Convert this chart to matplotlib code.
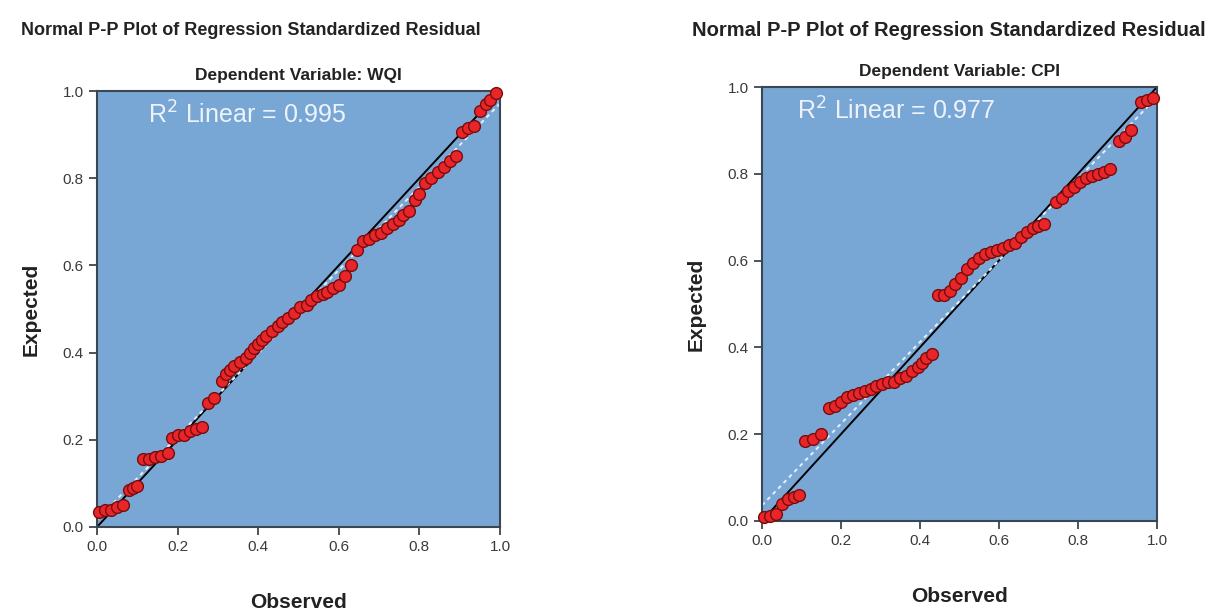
import numpy as np
import matplotlib
matplotlib.use('Agg')
import matplotlib.pyplot as plt

# P-P plot values (observed cum prob, expected cum prob)
wqi_obs = [0.005, 0.02, 0.035, 0.05, 0.065, 0.08, 0.09, 0.10, 0.115, 0.13, 0.145, 0.16,
           0.175, 0.185, 0.20, 0.215, 0.23, 0.245, 0.26, 0.275, 0.29, 0.31, 0.32, 0.33,
           0.34, 0.355, 0.37, 0.38, 0.39, 0.40, 0.41, 0.42, 0.435, 0.45, 0.46, 0.475,
           0.49, 0.505, 0.52, 0.53, 0.545, 0.56, 0.57, 0.585, 0.60, 0.615, 0.63, 0.645,
           0.66, 0.675, 0.69, 0.705, 0.72, 0.735, 0.75, 0.76, 0.775, 0.79, 0.80, 0.815,
           0.83, 0.845, 0.86, 0.875, 0.89, 0.905, 0.92, 0.935, 0.95, 0.965, 0.975, 0.99]
wqi_exp = [0.035, 0.04, 0.04, 0.045, 0.05, 0.085, 0.09, 0.095, 0.155, 0.157, 0.16, 0.162,
           0.17, 0.205, 0.21, 0.21, 0.22, 0.225, 0.23, 0.285, 0.295, 0.335, 0.35, 0.36,
           0.37, 0.378, 0.388, 0.398, 0.41, 0.42, 0.43, 0.437, 0.45, 0.46, 0.47, 0.48,
           0.49, 0.505, 0.51, 0.52, 0.53, 0.535, 0.54, 0.548, 0.556, 0.575, 0.60, 0.635,
           0.655, 0.66, 0.67, 0.675, 0.685, 0.695, 0.705, 0.715, 0.725, 0.75, 0.765, 0.79,
           0.80, 0.815, 0.825, 0.84, 0.85, 0.905, 0.915, 0.92, 0.955, 0.97, 0.98, 0.995]

cpi_obs = [0.005, 0.02, 0.035, 0.05, 0.065, 0.08, 0.095, 0.11, 0.13, 0.15, 0.17, 0.185,
           0.20, 0.215, 0.23, 0.245, 0.26, 0.275, 0.29, 0.305, 0.32, 0.335, 0.35, 0.365,
           0.38, 0.395, 0.405, 0.415, 0.43, 0.445, 0.46, 0.475, 0.49, 0.505, 0.52, 0.535,
           0.55, 0.565, 0.58, 0.595, 0.61, 0.625, 0.64, 0.655, 0.67, 0.685, 0.70, 0.715,
           0.745, 0.76, 0.775, 0.79, 0.805, 0.82, 0.835, 0.85, 0.865, 0.88, 0.905, 0.92,
           0.935, 0.96, 0.975, 0.99]
cpi_exp = [0.01, 0.012, 0.015, 0.04, 0.05, 0.055, 0.06, 0.185, 0.19, 0.20, 0.26, 0.265,
           0.275, 0.285, 0.29, 0.295, 0.30, 0.305, 0.31, 0.315, 0.32, 0.32, 0.33, 0.335,
           0.345, 0.355, 0.365, 0.375, 0.385, 0.52, 0.52, 0.53, 0.545, 0.56, 0.58, 0.595,
           0.605, 0.615, 0.62, 0.625, 0.63, 0.635, 0.64, 0.655, 0.665, 0.675, 0.68, 0.685,
           0.735, 0.745, 0.76, 0.77, 0.78, 0.79, 0.795, 0.80, 0.805, 0.81, 0.875, 0.885,
           0.90, 0.965, 0.97, 0.975]

panels = [
    ("WQI", wqi_obs, wqi_exp, "0.995"),
    ("CPI", cpi_obs, cpi_exp, "0.977"),
]
ticks = [0.0, 0.2, 0.4, 0.6, 0.8, 1.0]
tick_labels = ["0.0", "0.2", "0.4", "0.6", "0.8", "1.0"]

plt.rcParams['font.family'] = ['Liberation Sans', 'DejaVu Sans']

fig = plt.figure(figsize=(12.23, 6.14), dpi=100)
rects = [[0.0793, 0.1417, 0.3295, 0.710], [0.623, 0.1515, 0.323, 0.7068]]
title_x = [0.205, 0.776]
title_size = [13, 14.5]
text_x = [0.127, 0.09]
bg = '#79a7d5'
spine_col = '#3b4653'

for (name, obs, exp, r2), rect, tx, ts, rx in zip(panels, rects, title_x, title_size, text_x):
    ax = fig.add_axes(rect)
    ax.set_facecolor(bg)
    ax.set_xlim(0, 1)
    ax.set_ylim(0, 1)

    # reference diagonal
    ax.plot([0, 1], [0, 1], color='black', lw=1.4, zorder=2)
    # linear fit line
    k, b = np.polyfit(obs, exp, 1)
    xs = np.array([0, 1])
    ax.plot(xs, k * xs + b, color='#e6f0fa', lw=1.4, ls=(0, (2, 2)), zorder=2)

    ax.scatter(obs, exp, s=72, c='#e8262a', edgecolors='#7a0b0b', linewidths=1.0,
               zorder=3, clip_on=False)

    ax.text(rx, 0.945, r"R$^2$ Linear = " + r2,
            color='#eef3fa', fontsize=18, va='center', ha='left', zorder=4)

    ax.set_xticks(ticks)
    ax.set_yticks(ticks)
    ax.set_xticklabels(tick_labels)
    ax.set_yticklabels(tick_labels)
    ax.tick_params(direction='out', length=6, width=1.3, color=spine_col,
                   labelsize=11, labelcolor='#3a3a3a')
    for sp in ax.spines.values():
        sp.set_color(spine_col)
        sp.set_linewidth(1.5)

    ax.set_xlabel("Observed", fontsize=15, fontweight='bold', labelpad=28, color='#222222')
    ax.set_ylabel("Expected", fontsize=15, fontweight='bold', labelpad=16, color='#222222')
    ax.set_title("Dependent Variable: " + name, fontsize=12.5, fontweight='bold',
                 color='#222222', pad=8)

    fig.text(tx, 0.95, "Normal P-P Plot of Regression Standardized Residual",
             fontsize=ts, fontweight='bold', ha='center', va='center', color='#222222')

fig.savefig('out.png', dpi=100, facecolor='white')
